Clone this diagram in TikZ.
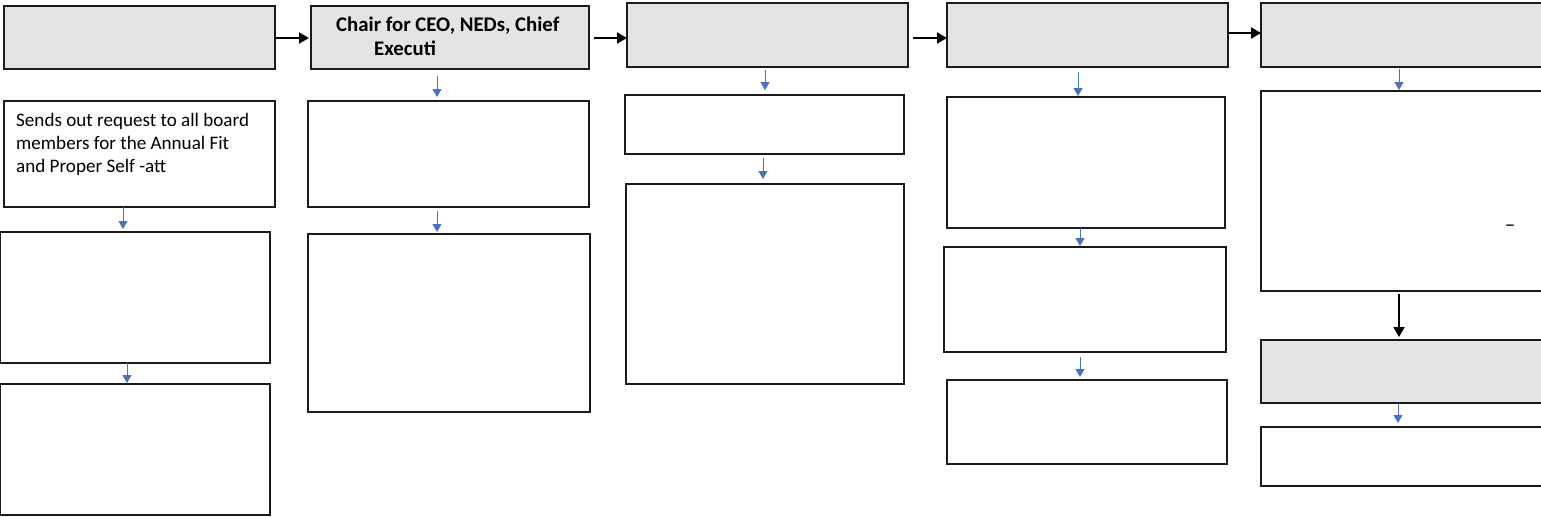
\documentclass[tikz,border=0pt]{standalone}
\usepackage{fontspec}
\setmainfont{Carlito}
\usetikzlibrary{arrows.meta}
\definecolor{boxgray}{HTML}{E4E4E4}
\definecolor{flowblue}{HTML}{4472C4}
\definecolor{boxline}{HTML}{1A1A1A}
\begin{document}
\begin{tikzpicture}[x=1pt,y=-1pt,
 box/.style={draw=boxline, line width=1.3pt, rectangle, inner sep=0pt, outer sep=0pt},
 hbox/.style={box, fill=boxgray},
 wbox/.style={box, fill=white},
 barrow/.style={draw=flowblue, line width=1pt, -{Triangle[width=9pt,length=8pt]}},
 karrow/.style={draw=black, line width=2pt, -{Triangle[width=11pt,length=10pt]}},
 bodytext/.style={font=\fontsize{19.1}{23}\selectfont, inner sep=0pt, anchor=base west},
 headtext/.style={font=\fontsize{20.8}{24}\selectfont\bfseries, inner sep=0pt, anchor=base west},
]
\useasboundingbox (0,0) rectangle (1541,517);
\clip (0,0) rectangle (1541,517);
\fill[white] (0,0) rectangle (1541,517);

% header row
\node[hbox, minimum width=271pt, minimum height=63pt] (H1) at (139.5,37.5) {};
\node[hbox, minimum width=278pt, minimum height=63pt] (H2) at (450,37.5) {};
\node[hbox, minimum width=281pt, minimum height=64pt] (H3) at (767.5,35) {};
\node[hbox, minimum width=281pt, minimum height=64pt] (H4) at (1087.5,35) {};
\node[hbox, minimum width=299pt, minimum height=64pt] (H5) at (1410.5,35) {};

% column 1
\node[wbox, minimum width=271pt, minimum height=106pt] (T1) at (139.5,154) {};
\node[wbox, minimum width=269.3pt, minimum height=131pt] (B1a) at (135.35,297.5) {};
\node[wbox, minimum width=269.3pt, minimum height=131pt] (B1b) at (135.35,449.5) {};

% column 2
\node[wbox, minimum width=281pt, minimum height=106pt] (B2a) at (448.5,154) {};
\node[wbox, minimum width=282pt, minimum height=178pt] (B2b) at (449,323) {};

% column 3
\node[wbox, minimum width=279pt, minimum height=59pt] (B3a) at (764.5,124.5) {};
\node[wbox, minimum width=278pt, minimum height=200pt] (B3b) at (765,284) {};

% column 4
\node[wbox, minimum width=278pt, minimum height=131pt] (B4a) at (1086,162.5) {};
\node[wbox, minimum width=282pt, minimum height=105pt] (B4b) at (1085,299.5) {};
\node[wbox, minimum width=280pt, minimum height=84pt] (B4c) at (1087,422) {};

% column 5
\node[wbox, minimum width=299pt, minimum height=200pt] (B5a) at (1410.5,191) {};
\node[hbox, minimum width=299pt, minimum height=63pt] (H5b) at (1410.5,371.5) {};
\node[wbox, minimum width=299pt, minimum height=59pt] (B5b) at (1410.5,456.5) {};

% texts
\node[bodytext] (t1a) at (16,126) {Sends out request to all board};
\node[bodytext] (t1b) at (16,149) {members for the Annual Fit};
\node[bodytext] (t1c) at (16,172) {and Proper Self -att};
\node[headtext] (h2a) at (336,31) {Chair for CEO, NEDs, Chief};
\node[headtext] (h2b) at (374,55) {Executi};
\node[bodytext, font=\fontsize{21}{23}\selectfont, anchor=base] (dash) at (1510,231.5) {–};

% horizontal black arrows
\draw[karrow, shorten >=2pt] (H1.east |- 0,38) -- (H2.west |- 0,38);
\draw[karrow, shorten <=5pt] (H2.east |- 0,38) -- (H3.west |- 0,38);
\draw[karrow, shorten <=5pt] (H3.east |- 0,38) -- (H4.west |- 0,38);
\draw[karrow] (H4.east |- 0,33) -- (H5.west |- 0,33);

% blue vertical arrows
\draw[barrow, shorten >=3pt] (T1.south -| 123,0) -- (B1a.north -| 123,0);
\draw[barrow, shorten >=1pt] (B1a.south -| 127,0) -- (B1b.north -| 127,0);
\draw[barrow, shorten <=7pt, shorten >=4pt] (H2.south -| 437,0) -- (B2a.north -| 437,0);
\draw[barrow, shorten <=4pt, shorten >=2pt] (B2a.south -| 437,0) -- (B2b.north -| 437,0);
\draw[barrow, shorten <=3pt, shorten >=5pt] (H3.south -| 765,0) -- (B3a.north -| 765,0);
\draw[barrow, shorten <=4pt, shorten >=5pt] (B3a.south -| 763,0) -- (B3b.north -| 763,0);
\draw[barrow, shorten <=5pt, shorten >=1pt] (H4.south -| 1078,0) -- (B4a.north -| 1078,0);
\draw[barrow, shorten >=1pt] (B4a.south -| 1080,0) -- (B4b.north -| 1080,0);
\draw[barrow, shorten <=5pt, shorten >=3pt] (B4b.south -| 1080,0) -- (B4c.north -| 1080,0);
\draw[barrow, shorten <=2pt, shorten >=1pt] (H5.south -| 1399,0) -- (B5a.north -| 1399,0);
\draw[karrow, shorten <=3pt, shorten >=3pt] (B5a.south -| 1399,0) -- (H5b.north -| 1399,0);
\draw[barrow, shorten <=1pt, shorten >=4pt] (H5b.south -| 1398,0) -- (B5b.north -| 1398,0);
\end{tikzpicture}
\end{document}
